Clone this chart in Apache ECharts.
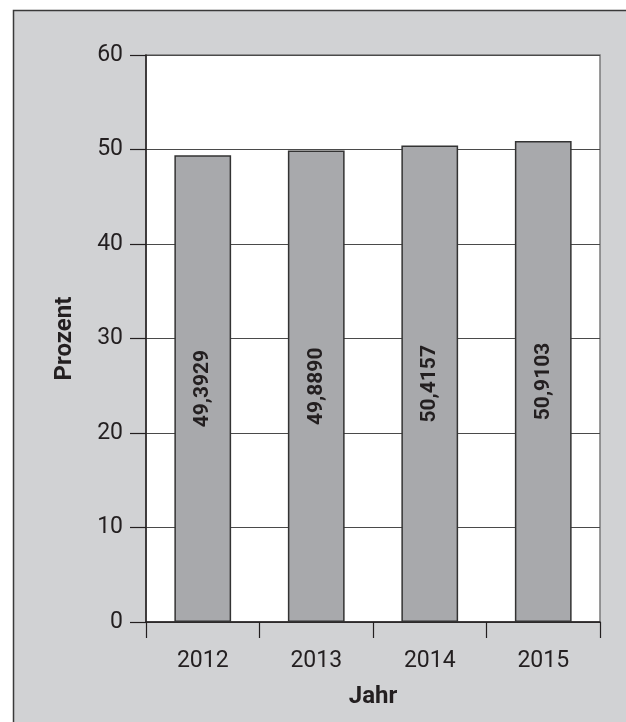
<!DOCTYPE html>
<html>
<head>
<meta charset="utf-8">
<script src="https://cdn.jsdelivr.net/npm/echarts@6/dist/echarts.min.js"></script>
<style>
html,body{margin:0;padding:0;background:#fff;}
#chart{width:626px;height:722px;}
</style>
</head>
<body>
<div id="chart"></div>
<script>
var categories = ['2012', '2013', '2014', '2015'];
var values = [49.3929, 49.8890, 50.4157, 50.9103];
var valueLabels = ['49,3929', '49,8890', '50,4157', '50,9103'];
var yTicks = [0, 10, 20, 30, 40, 50, 60];

var chart = echarts.init(document.getElementById('chart'), null, {renderer: 'canvas'});
var font = 'Roboto, "DejaVu Sans", sans-serif';
var option = {
  backgroundColor: '#ffffff',
  animation: false,
  graphic: [{
    type: 'rect', z: -10, silent: true,
    shape: {x: 13.5, y: 10.5, width: 700, height: 800},
    style: {fill: '#d1d2d4', stroke: '#3a3a3a', lineWidth: 1.5}
  }],
  grid: {
    left: 146, top: 55, right: 26, bottom: 100,
    show: true, backgroundColor: '#ffffff', borderColor: '#7a7a7a', borderWidth: 1.5
  },
  xAxis: {
    type: 'category',
    data: categories,
    boundaryGap: true,
    name: 'Jahr',
    nameLocation: 'middle',
    nameGap: 63,
    nameTextStyle: {fontFamily: font, fontSize: 24, fontWeight: 'bold', color: '#231f20'},
    axisLine: {show: true, lineStyle: {color: '#231f20', width: 1.5}},
    axisTick: {show: true, alignWithLabel: false, length: 16, lineStyle: {color: '#231f20', width: 1.2}},
    axisLabel: {fontFamily: font, fontSize: 23, color: '#231f20', margin: 28}
  },
  yAxis: {
    type: 'value',
    min: 0, max: 60, interval: 10,
    name: 'Prozent',
    nameLocation: 'middle',
    nameGap: 69,
    nameRotate: 90,
    nameTextStyle: {fontFamily: font, fontSize: 24, fontWeight: 'bold', color: '#231f20'},
    axisLine: {show: true, lineStyle: {color: '#231f20', width: 1.5}},
    axisTick: {show: true, length: 16, lineStyle: {color: '#231f20', width: 1.2}},
    axisLabel: {
      fontFamily: font, fontSize: 23, color: '#231f20', margin: 23,
      formatter: function (v) { return yTicks.indexOf(v) >= 0 ? String(v) : ''; }
    },
    splitLine: {show: true, lineStyle: {color: '#4a4a4a', width: 1.2}}
  },
  series: [{
    type: 'bar',
    data: values,
    barWidth: '50%',
    itemStyle: {color: '#a8a9ac', borderColor: '#333333', borderWidth: 1.5},
    label: {
      show: true,
      position: 'inside',
      rotate: 90,
      fontFamily: font,
      fontSize: 21,
      fontWeight: 'bold',
      color: '#231f20',
      formatter: function (p) { return valueLabels[p.dataIndex]; }
    }
  }]
};
chart.setOption(option);
</script>
</body>
</html>
